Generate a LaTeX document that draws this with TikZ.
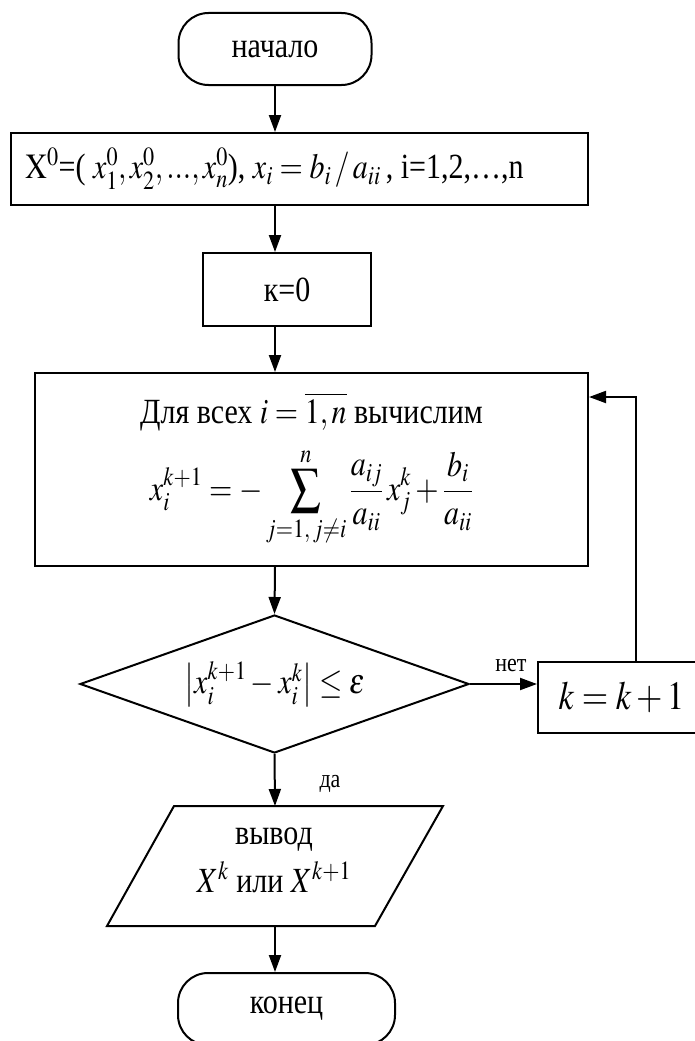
\documentclass[tikz,border=0pt]{standalone}
\usepackage{graphicx}
\usepackage{mathptmx}
\usepackage{fontspec}
\setmainfont{Liberation Serif}
\usetikzlibrary{arrows.meta,shapes.geometric,calc}
\newcommand{\tallt}[1]{\scalebox{1}[1.18]{#1}}
\begin{document}
\begin{tikzpicture}[x=1pt,y=-1pt,
  every node/.style={font=\fontsize{30}{36}\selectfont},
  arr/.style={line width=2pt,-{Triangle[length=17pt,width=12pt]}},
  ln/.style={line width=2pt},
  term/.style={draw,line width=2pt,rounded corners=30pt,inner sep=0pt},
  boxn/.style={draw,line width=2pt,inner sep=0pt},
  lbl/.style={font=\fontsize{22}{26}\selectfont,inner sep=0pt}]
\useasboundingbox (0,0) rectangle (694,1041);
\coordinate (axis) at (275,0);
\node[term, minimum width=193pt, minimum height=72pt] (start) at (275,49) {\tallt{начало}};
\node[boxn, minimum width=577pt, minimum height=72pt] (init) at (299.5,169)
  {\hspace*{-50pt}\tallt{$\mathrm{X}^{0}$=(~$x_1^0,x_2^0,...,x_n^0$), $x_i=b_i\,/\,a_{ii}$\,, i=1,2,…,n}};
\node[boxn, minimum width=168pt, minimum height=73pt] (k0) at (287,289.5) {\tallt{к=0}};
\node[boxn, minimum width=553pt, minimum height=193pt] (calc) at (311.5,469.5)
  {\tallt{\begin{tabular}{@{}c@{}}Для всех $i=\overline{1,n}$ вычислим\\[10pt]
   $\displaystyle x_i^{k+1}=-\sum_{j=1,\,j\neq i}^{n}\frac{a_{ij}}{a_{ii}}\,x_j^k+\frac{b_i}{a_{ii}}$\\[22pt]\end{tabular}}};
\node[diamond, draw, line width=2pt, aspect=2.8, minimum width=389pt, minimum height=138pt, inner sep=0pt] (cond) at (274.5,684)
  {\tallt{$\left|x_i^{k+1}-x_i^k\right|\le\varepsilon$}};
\node[boxn, minimum width=167pt, minimum height=71pt, font=\fontsize{34}{40}\selectfont] (kk) at (621.5,697.5) {\tallt{$k=k+1$}};
\coordinate (outtl) at (174,806);
\coordinate (outtr) at (443,806);
\coordinate (outbr) at (375,926);
\coordinate (outbl) at (107,926);
\draw[ln] (outtl) -- (outtr) -- (outbr) -- (outbl) -- cycle;
\node (out) at (274,860) {\tallt{\begin{tabular}{@{}c@{}}вывод\\[4pt] $X^k$ или $X^{k+1}$\end{tabular}}};
\node[term, minimum width=217pt, minimum height=72pt] (fin) at (286.5,1009) {\tallt{конец}};
\coordinate (loopx) at (636,397);
\draw[arr] (start.south) -- (axis |- init.north);
\draw[arr] (axis |- init.south) -- (axis |- k0.north);
\draw[arr] (axis |- k0.south) -- (axis |- calc.north);
\draw[arr] (axis |- calc.south) -- (cond.north);
\draw[arr] (cond.east) -- (cond.east -| kk.west);
\node[lbl] (no) at (511,666) {\tallt{нет}};
\draw[arr] (kk.north -| loopx) -- (loopx) -- (loopx -| calc.east);
\draw[arr] (cond.south) -- (axis |- outtl);
\node[lbl] (yes) at (330,784) {\tallt{да}};
\draw[arr] (axis |- outbl) -- (axis |- fin.north);
\end{tikzpicture}
\end{document}
